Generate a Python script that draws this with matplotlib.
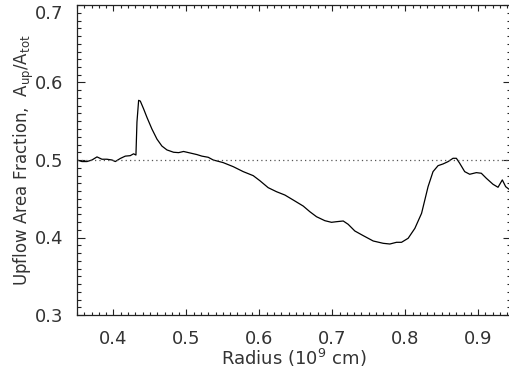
import matplotlib
matplotlib.use('Agg')
import matplotlib.pyplot as plt
from matplotlib.ticker import MultipleLocator

# radius in units of 1e9 cm, and upflow area fraction
radius = [0.350, 0.3568, 0.3637, 0.3705, 0.3774, 0.3842, 0.391, 0.398, 0.4025,
          0.4094, 0.4162, 0.423, 0.4276, 0.4308, 0.4322, 0.4345, 0.4368, 0.4413,
          0.4459, 0.4527, 0.4596, 0.4664, 0.4733, 0.4824, 0.4893, 0.4961, 0.5053,
          0.5144, 0.5212, 0.5299, 0.5368, 0.5505, 0.5642, 0.5779, 0.5916, 0.6007,
          0.6121, 0.6235, 0.635, 0.6464, 0.6601, 0.6692, 0.6784, 0.6898, 0.6989,
          0.7058, 0.715, 0.7218, 0.7309, 0.7424, 0.7561, 0.7698, 0.7789, 0.788,
          0.7949, 0.804, 0.8132, 0.8224, 0.8313, 0.8381, 0.845, 0.8518, 0.8587,
          0.8655, 0.8701, 0.8747, 0.8815, 0.8884, 0.8975, 0.9043, 0.9112, 0.9203,
          0.9272, 0.9331, 0.9377, 0.9423, 0.945]
upflow = [0.500, 0.498, 0.498, 0.500, 0.504, 0.501, 0.501, 0.500, 0.498,
          0.502, 0.505, 0.5056, 0.508, 0.5064, 0.549, 0.577, 0.576, 0.566,
          0.555, 0.540, 0.527, 0.518, 0.513, 0.510, 0.5095, 0.511, 0.509,
          0.507, 0.505, 0.5035, 0.500, 0.4966, 0.4914, 0.485, 0.4798, 0.4733,
          0.4643, 0.4591, 0.4548, 0.4484, 0.4406, 0.4333, 0.4268, 0.4217, 0.4196,
          0.4204, 0.4213, 0.4170, 0.4084, 0.4024, 0.3955, 0.3925, 0.3916, 0.3938,
          0.3938, 0.3990, 0.4118, 0.4312, 0.4656, 0.485, 0.4927, 0.4949, 0.4979,
          0.5022, 0.5022, 0.4957, 0.485, 0.4816, 0.4837, 0.4829, 0.4764, 0.4687,
          0.4648, 0.4743, 0.4656, 0.4622, 0.462]
reference_level = 0.5

plt.rcParams['font.family'] = ['DejaVu Sans']
plt.rcParams['mathtext.fontset'] = 'dejavusans'

ink = '#333333'
fig = plt.figure(figsize=(5.09, 3.75), dpi=100)
ax = fig.add_axes([77 / 509, 60 / 375, 434 / 509, 310 / 375])

ax.plot(radius, upflow, color='black', lw=0.9)
ax.axhline(reference_level, color='#555555', lw=0.9, ls=(0, (1, 2.5)))

ax.set_xlim(0.35, 0.945)
ax.set_ylim(0.3, 0.7)
ax.xaxis.set_major_locator(MultipleLocator(0.1))
ax.xaxis.set_minor_locator(MultipleLocator(0.01))
ax.yaxis.set_major_locator(MultipleLocator(0.1))
ax.yaxis.set_minor_locator(MultipleLocator(0.01))
ax.tick_params(axis='both', which='both', direction='in', top=True, right=True,
               color='#222222', labelcolor=ink, labelsize=13, width=0.8)
ax.tick_params(axis='x', which='major', length=4, pad=11)
ax.tick_params(axis='x', which='minor', length=2.2)
ax.tick_params(axis='y', which='major', length=6, pad=10)
ax.tick_params(axis='y', which='minor', length=3)
for s in ax.spines.values():
    s.set_color('#222222')
    s.set_linewidth(0.9)

ax.set_xlabel('Radius (10$^9$ cm)', fontsize=13, color=ink, labelpad=-1)
ax.set_ylabel('Upflow Area Fraction,  A$_{\\rm up}$/A$_{\\rm tot}$', fontsize=12,
              color=ink, labelpad=-1)

# keep the top label inside the canvas
fig.canvas.draw()
for tick in ax.yaxis.get_major_ticks():
    if abs(tick.get_loc() - 0.7) < 1e-6:
        tick.label1.set_verticalalignment('top')

fig.savefig('out.png', dpi=100)
